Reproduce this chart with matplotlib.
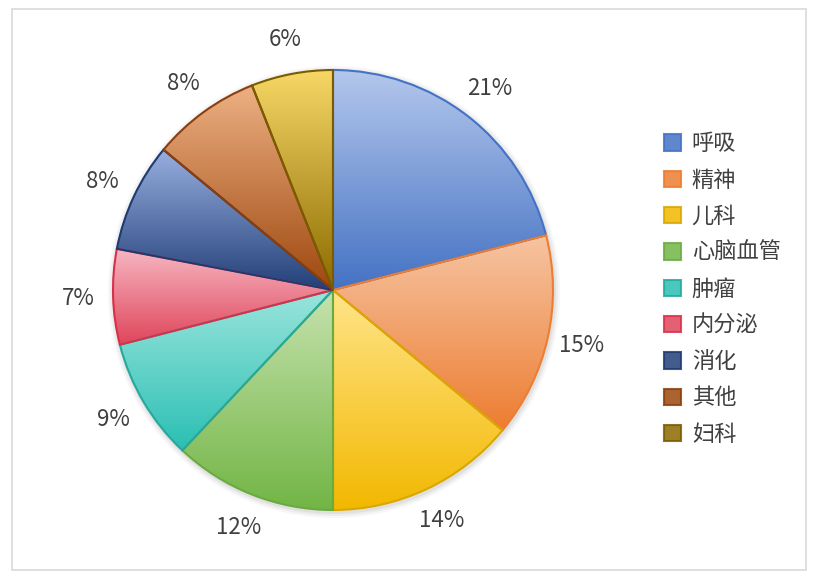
import matplotlib.pyplot as plt
import numpy as np
from matplotlib.colors import LinearSegmentedColormap
from matplotlib.patches import Rectangle

plt.rcParams['font.family'] = ['Noto Sans CJK SC', 'DejaVu Sans']

labels = ['呼吸', '精神', '儿科', '心脑血管', '肿瘤', '内分泌', '消化', '其他', '妇科']
values = [21, 15, 14, 12, 9, 7, 8, 8, 6]
tops = ['#B4C7EC', '#F6C4A2', '#FFE58A', '#C6E2AE', '#9BE5DD', '#F6B6C2', '#98B0E0', '#EDB083', '#F6D866']
bottoms = ['#4472C4', '#ED7D31', '#F2B800', '#72B545', '#2BBFB3', '#E0455A', '#223F78', '#9E480E', '#8C6A00']
edges = ['#4472C4', '#ED7D31', '#D9A800', '#6AAB40', '#25A89E', '#D8304A', '#1F3A6E', '#8B3E0C', '#7A5C00']

fig = plt.figure(figsize=(8.16, 5.78), dpi=100)
ax = fig.add_axes([0, 0, 1, 1])

# chart frame
fig.patches.append(Rectangle((12 / 816, 8 / 578), 794 / 816, 561 / 578, transform=fig.transFigure,
                             fill=False, edgecolor='#D9D9D9', linewidth=1.2))

cx, cy, r = 333, 288, 220

# faint shadow
for i, a in enumerate([0.05, 0.04, 0.03]):
    ax.add_patch(plt.Circle((cx + 1, cy - 2), r + 2 + i * 2, color='black', alpha=a, lw=0, zorder=0))

wedges, texts, pcts = ax.pie(values, colors=bottoms, startangle=90, counterclock=False,
                             center=(cx, cy), radius=r, autopct='%.0f%%', pctdistance=1.16,
                             frame=True, textprops=dict(fontsize=16, color='#404040'))

for w, t, b, e in zip(wedges, tops, bottoms, edges):
    cmap = LinearSegmentedColormap.from_list('g', [t, b])
    ext = w.get_path().get_extents(w.get_patch_transform())
    grad = np.linspace(0, 1, 256).reshape(-1, 1)
    im = ax.imshow(grad, cmap=cmap, extent=(ext.x0, ext.x1, ext.y0, ext.y1), origin='upper',
                   aspect='auto', interpolation='bilinear', zorder=1)
    im.set_clip_path(w)
    w.set_facecolor('none')
    w.set_edgecolor(e)
    w.set_linewidth(1.5)
    w.set_zorder(2)

ax.set_xlim(0, 816)
ax.set_ylim(0, 578)
ax.axis('off')

handles = [Rectangle((0, 0), 1, 1, facecolor=b, edgecolor=e, linewidth=1.5, alpha=0.85)
           for b, e in zip(bottoms, edges)]
ax.legend(handles, labels, loc='center left', bbox_to_anchor=(644 / 816, 289 / 578), frameon=False,
          fontsize=16, labelcolor='#404040', handlelength=0.75, handleheight=0.75,
          handletextpad=0.5, labelspacing=0.6)

fig.savefig('out.png', dpi=100)
